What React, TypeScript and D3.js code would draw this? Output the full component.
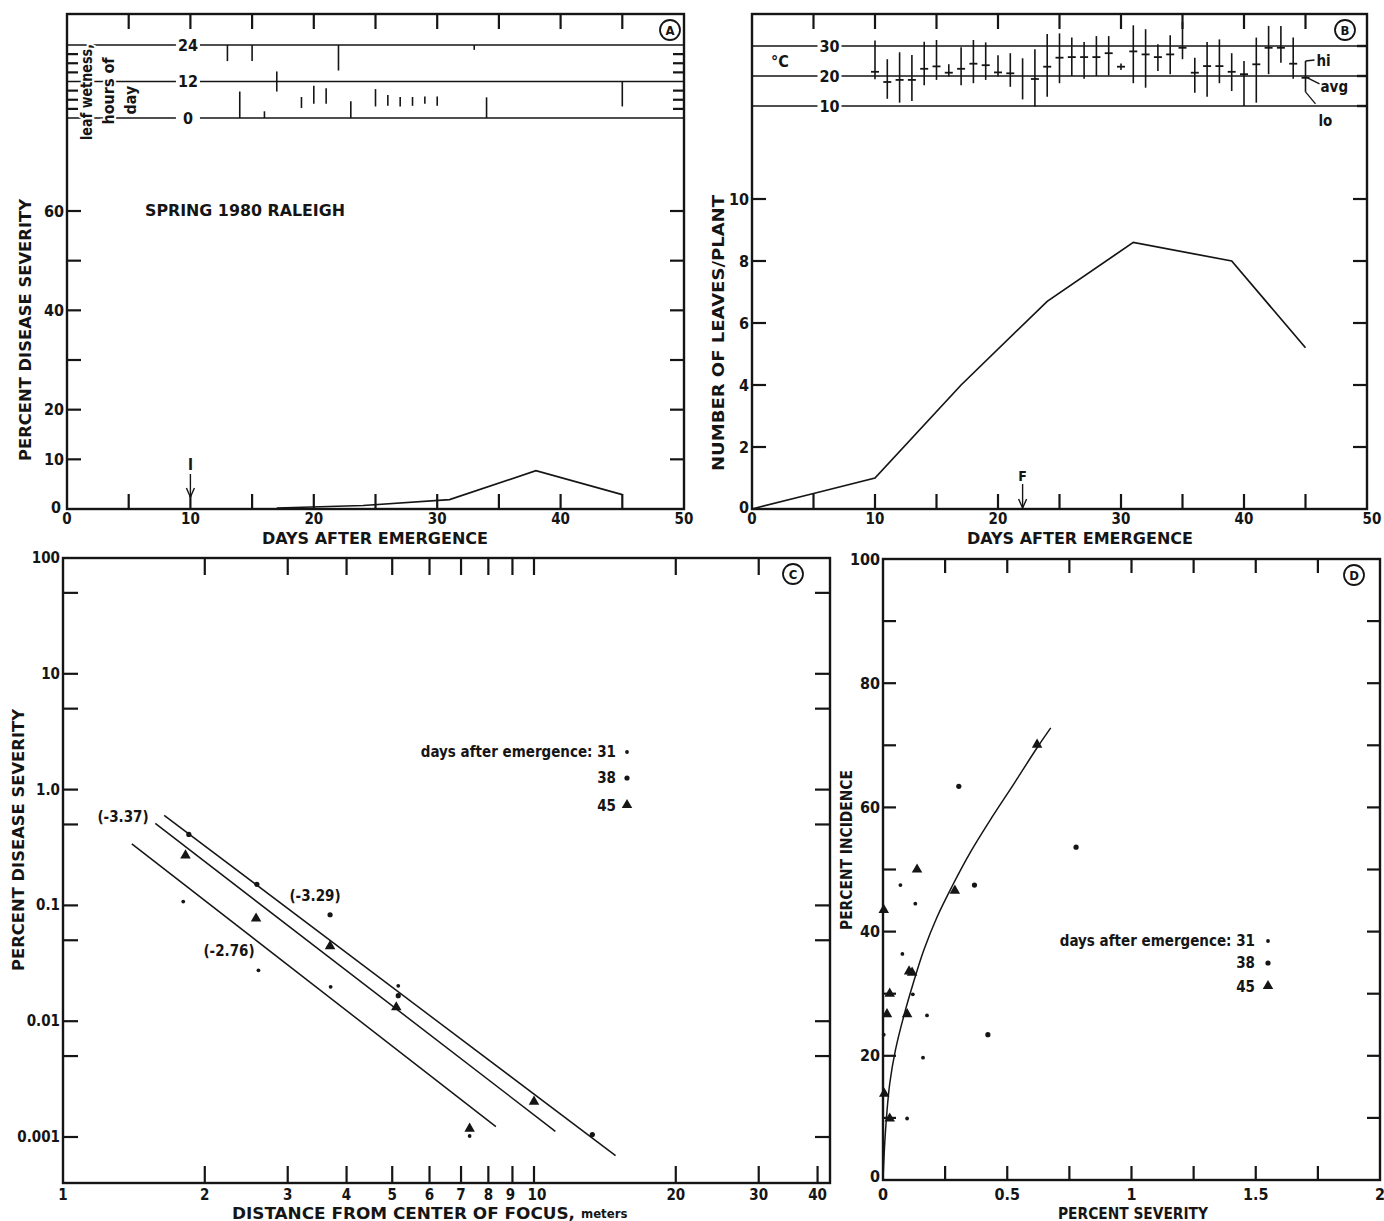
import React from 'react';
import * as d3 from 'd3';

const FONT = '"DejaVu Sans Condensed", "DejaVu Sans", sans-serif';
const INK = '#151515';

// --- Panel A: leaf wetness periods (hours of day) and disease severity ---
const wetDays = [13, 14, 15, 16, 17, 19, 20, 21, 22, 23, 25, 26, 27, 28, 29, 30, 33, 34, 45];
const wetFrom = [18.7, 0, 18.7, 0, 8.7, 3.3, 4.7, 4.7, 15.6, 0, 3.8, 4.0, 3.8, 4.0, 4.7, 4.0, 22.4, 0, 3.8];
const wetTo = [24, 8.7, 24, 2.2, 15.3, 6.9, 10.6, 9.8, 24, 5.5, 9.5, 7.6, 6.9, 6.9, 7.1, 7.1, 24, 6.8, 12];
const sevDays = [17, 24, 31, 38, 45];
const sevPct = [0.2, 0.7, 1.9, 7.7, 2.9];

// --- Panel B: daily temperature and leaves per plant ---
const tempDays = d3.range(10, 46);
const tempHi = [31.8, 25.6, 27.9, 27.0, 31.4, 32.0, 23.9, 29.6, 32.0, 31.2, 26.9, 27.6, 25.9, 28.9, 34.0, 34.2, 32.8, 31.3, 33.3, 33.3, 24.2, 36.9, 35.6, 30.6, 33.6, 38.0, 26.1, 31.3, 32.2, 27.6, 25.0, 32.8, 36.7, 36.7, 32.8, 25.0];
const tempAvg = [21.4, 18.0, 18.7, 18.7, 22.4, 23.2, 21.1, 22.4, 24.1, 23.6, 21.2, 20.9, null, 19.0, 23.1, 26.1, 26.3, 26.3, 26.3, 27.6, 23.1, 28.2, 27.2, 26.3, 27.2, 29.4, 21.1, 23.3, 23.3, 21.4, 20.6, 23.9, 29.4, 29.4, 24.1, 19.4];
const tempLo = [18.9, 12.4, 11.1, 11.7, 16.9, 18.7, 19.8, 16.9, 17.6, 18.7, 19.8, 16.4, 12.2, 9.8, 13.1, 17.6, 20.0, 19.1, 20.0, 20.2, 22.0, 17.6, 16.1, 21.7, 20.6, 25.6, 14.4, 13.1, 17.6, 15.0, 10.0, 11.1, 20.6, 24.4, 19.1, 14.7];
const leafDays = [0, 5, 10, 17, 24, 31, 39, 45];
const leafCount = [0, 0.5, 1.0, 4.0, 6.7, 8.6, 8.0, 5.2];

// --- Panel C: severity gradient vs distance (log-log) ---
const c31Dist = [1.8, 2.6, 3.7, 5.15, 7.3];
const c31Sev = [0.108, 0.0275, 0.0198, 0.0202, 0.00102];
const c38Dist = [1.85, 2.58, 3.69, 5.15, 13.3];
const c38Sev = [0.41, 0.152, 0.083, 0.0166, 0.00105];
const c45Dist = [1.82, 2.57, 3.69, 5.1, 7.3, 10];
const c45Sev = [0.27, 0.077, 0.0445, 0.0132, 0.00118, 0.00202];
const fitLabels = ['(-3.29)', '(-3.37)', '(-2.76)'];
const fitDist = [[1.64, 14.9], [1.57, 11.1], [1.4, 8.3]];
const fitSev = [[0.6, 0.00069], [0.51, 0.00112], [0.34, 0.00123]];

// --- Panel D: incidence vs severity ---
const d31Sev = [0.07, 0.13, 0.078, 0.12, 0.177, 0.161, 0.097, 0.003];
const d31Inc = [47.5, 44.5, 36.4, 29.9, 26.5, 19.7, 9.9, 23.4];
const d38Sev = [0.305, 0.777, 0.368, 0.422];
const d38Inc = [63.4, 53.6, 47.5, 23.4];
const d45Sev = [0.62, 0.137, 0.289, 0.003, 0.117, 0.105, 0.027, 0.016, 0.097, 0.005, 0.027];
const d45Inc = [70.1, 50.0, 46.6, 43.5, 33.4, 33.6, 30.0, 26.7, 26.7, 13.9, 9.9];
const curveSev = [0, 0.0094, 0.027, 0.05, 0.083, 0.121, 0.164, 0.218, 0.278, 0.352, 0.44, 0.53, 0.62, 0.675];
const curveInc = [0, 7.5, 15.5, 20.9, 26.3, 31.6, 37.0, 42.4, 47.3, 52.8, 58.5, 64.0, 69.6, 72.8];

const tri = d3.symbol().type(d3.symbolTriangle).size(48)() as string;

const Txt = ({ x, y, size = 15, anchor = 'middle', weight = 'bold', rotate = 0, len, halo, children }: any) => (
    <text
        x={x} y={y}
        fontSize={size}
        fontWeight={weight}
        textAnchor={anchor}
        dominantBaseline="central"
        fill={INK}
        stroke={halo ? '#fff' : undefined}
        strokeWidth={halo ? 4 : undefined}
        paintOrder={halo ? 'stroke' : undefined}
        textLength={len}
        lengthAdjust={len ? 'spacingAndGlyphs' : undefined}
        transform={rotate ? `rotate(${rotate},${x},${y})` : undefined}
    >{children}</text>
);

const Circled = ({ x, y, letter }: any) => (
    <g>
        <circle cx={x} cy={y} r={10} fill="none" stroke={INK} strokeWidth={1.8} />
        <Txt x={x} y={y + 0.5} size={13}>{letter}</Txt>
    </g>
);

const Frame = ({ x0, x1, y0, y1 }: any) => (
    <rect x={x0} y={y0} width={x1 - x0} height={y1 - y0} fill="none" stroke={INK} strokeWidth={2.4} />
);

const Arrow = ({ x, y0, y1 }: any) => (
    <g stroke={INK} strokeWidth={1.4} fill="none">
        <line x1={x} x2={x} y1={y0} y2={y1} />
        <polyline points={`${x - 4},${y1 - 9} ${x},${y1} ${x + 4},${y1 - 9}`} />
    </g>
);

const Dot = ({ x, y, r }: any) => <circle cx={x} cy={y} r={r} fill={INK} />;
const Tri = ({ x, y }: any) => <path d={tri} transform={`translate(${x},${y})`} fill={INK} />;

// --- Panel A ---
const PanelA = () => {
    const L = 67, R = 684, T = 14, B = 509;
    const x = d3.scaleLinear().domain([0, 50]).range([L, R]);
    const y = d3.scaleLinear().domain([0, 60]).range([B, 211]);
    const w = d3.scaleLinear().domain([0, 24]).range([118, 45]);
    const line = d3.line<number>().x((_, i) => x(sevDays[i])).y(d => y(d));
    const dayTicks = d3.range(5, 50, 5);
    return (
        <g>
            <Frame x0={L} x1={R} y0={T} y1={B} />
            {dayTicks.map(d => (
                <g key={d} stroke={INK} strokeWidth={2.2}>
                    <line x1={x(d)} x2={x(d)} y1={B} y2={B - 15} />
                    <line x1={x(d)} x2={x(d)} y1={T} y2={T + 15} />
                </g>
            ))}
            {d3.range(10, 70, 10).map(v => (
                <g key={v} stroke={INK} strokeWidth={2.2}>
                    <line x1={L} x2={L + 14} y1={y(v)} y2={y(v)} />
                    <line x1={R} x2={R - 14} y1={y(v)} y2={y(v)} />
                </g>
            ))}
            {[3, 6, 9, 15, 18, 21].map(h => (
                <g key={h} stroke={INK} strokeWidth={2.2}>
                    <line x1={L} x2={L + 11} y1={w(h)} y2={w(h)} />
                    <line x1={R} x2={R - 11} y1={w(h)} y2={w(h)} />
                </g>
            ))}
            {[0, 12, 24].map(h => (
                <g key={h}>
                    <line x1={L} x2={R} y1={w(h)} y2={w(h)} stroke={INK} strokeWidth={1.6} />
                    <rect x={x(9.8) - 12} y={w(h) - 8} width={24} height={16} fill="#fff" />
                    <Txt x={x(9.8)} y={w(h)} size={16}>{h}</Txt>
                </g>
            ))}
            {wetDays.map((d, i) => (
                <line key={d} x1={x(d)} x2={x(d)} y1={w(wetFrom[i])} y2={w(wetTo[i])} stroke={INK} strokeWidth={1.6} />
            ))}
            <Txt x={86} y={92} size={16} rotate={-90} halo len={96}>leaf wetness,</Txt>
            <Txt x={108} y={91} size={16} rotate={-90} halo>hours of</Txt>
            <Txt x={130} y={100} size={16} rotate={-90} halo>day</Txt>
            <Circled x={670} y={30} letter="A" />
            <path d={line(sevPct) as string} fill="none" stroke={INK} strokeWidth={1.7} />
            {[10, 20, 40, 60].map(v => (
                <Txt key={v} x={L - 3} y={y(v)} size={16} anchor="end">{v}</Txt>
            ))}
            <Txt x={L - 6} y={B - 2} size={16} anchor="end">0</Txt>
            {d3.range(0, 60, 10).map(d => (
                <Txt key={d} x={x(d)} y={B + 10} size={15}>{d}</Txt>
            ))}
            <Txt x={375} y={538} size={16} len={226}>DAYS AFTER EMERGENCE</Txt>
            <Txt x={25} y={330} size={16} rotate={-90} len={262}>PERCENT DISEASE SEVERITY</Txt>
            <Txt x={245} y={211} size={15} len={200}>SPRING 1980 RALEIGH</Txt>
            <Txt x={x(10)} y={465} size={15}>I</Txt>
            <Arrow x={x(10)} y0={474} y1={497} />
        </g>
    );
};

// --- Panel B ---
const PanelB = () => {
    const L = 752, R = 1367, T = 14, B = 509;
    const x = d3.scaleLinear().domain([0, 50]).range([L, R]);
    const y = d3.scaleLinear().domain([0, 10]).range([B, 199]);
    const t = d3.scaleLinear().domain([10, 30]).range([106, 46]);
    const line = d3.line<number>().x((_, i) => x(leafDays[i])).y(d => y(d));
    const last = tempDays.length - 1;
    const lx = x(tempDays[last]);
    return (
        <g>
            <Frame x0={L} x1={R} y0={T} y1={B} />
            {d3.range(5, 50, 5).map(d => (
                <g key={d} stroke={INK} strokeWidth={2.2}>
                    <line x1={x(d)} x2={x(d)} y1={B} y2={B - 15} />
                    <line x1={x(d)} x2={x(d)} y1={T} y2={T + 15} />
                </g>
            ))}
            {d3.range(2, 12, 2).map(v => (
                <g key={v} stroke={INK} strokeWidth={2.2}>
                    <line x1={L} x2={L + 14} y1={y(v)} y2={y(v)} />
                    <line x1={R} x2={R - 14} y1={y(v)} y2={y(v)} />
                </g>
            ))}
            {[30, 20, 10].map(v => (
                <g key={v}>
                    <line x1={L} x2={R} y1={t(v)} y2={t(v)} stroke={INK} strokeWidth={1.6} />
                    <rect x={x(6.3) - 12} y={t(v) - 8} width={24} height={16} fill="#fff" />
                    <Txt x={x(6.3)} y={t(v)} size={16}>{v}</Txt>
                    <line x1={R} x2={R - 10} y1={t(v)} y2={t(v)} stroke={INK} strokeWidth={2.4} />
                </g>
            ))}
            <Txt x={780} y={61} size={16}>°C</Txt>
            {tempDays.map((d, i) => (
                <g key={d} stroke={INK} strokeWidth={1.6}>
                    <line x1={x(d)} x2={x(d)} y1={t(tempLo[i])} y2={t(tempHi[i])} />
                    {tempAvg[i] != null && (
                        <line x1={x(d) - 4} x2={x(d) + 4} y1={t(tempAvg[i] as number)} y2={t(tempAvg[i] as number)} strokeWidth={1.8} />
                    )}
                </g>
            ))}
            <g stroke={INK} strokeWidth={1.3} fill="none">
                <line x1={lx} x2={lx + 9} y1={t(tempHi[last])} y2={t(tempHi[last]) - 1} />
                <line x1={lx + 2} x2={lx + 14} y1={t(tempAvg[last] as number)} y2={t(tempAvg[last] as number) + 6} />
                <line x1={lx} x2={lx + 10} y1={t(tempLo[last])} y2={t(tempLo[last]) + 12} />
            </g>
            <Txt x={lx + 11} y={61} size={15} anchor="start">hi</Txt>
            <Txt x={lx + 15} y={87} size={15} anchor="start">avg</Txt>
            <Txt x={lx + 13} y={121} size={15} anchor="start">lo</Txt>
            <Circled x={1345} y={30} letter="B" />
            <path d={line(leafCount) as string} fill="none" stroke={INK} strokeWidth={1.7} />
            {d3.range(0, 12, 2).map(v => (
                <Txt key={v} x={L - 3} y={y(v) - (v === 0 ? 2 : 0)} size={16} anchor="end">{v}</Txt>
            ))}
            {d3.range(0, 60, 10).map(d => (
                <Txt key={d} x={x(d) + (d === 50 ? 5 : 0)} y={B + 10} size={15}>{d}</Txt>
            ))}
            <Txt x={1080} y={538} size={16} len={226}>DAYS AFTER EMERGENCE</Txt>
            <Txt x={718} y={333} size={16} rotate={-90} len={276}>NUMBER OF LEAVES/PLANT</Txt>
            <Txt x={x(22)} y={476} size={14}>F</Txt>
            <Arrow x={x(22)} y0={484} y1={508} />
        </g>
    );
};

// --- Panel C ---
const PanelC = () => {
    const L = 63, R = 830, T = 558, B = 1183;
    const x = d3.scaleLog().domain([1, 10]).range([L, 534]);
    const y = d3.scaleLog().domain([0.001, 100]).range([1137, T]);
    const xt = [2, 3, 4, 5, 6, 7, 8, 9, 10, 20, 30];
    const yt = [50, 10, 5, 1, 0.5, 0.1, 0.05, 0.01, 0.005, 0.001];
    const yl = [[100, '100'], [10, '10'], [1, '1.0'], [0.1, '0.1'], [0.01, '0.01'], [0.001, '0.001']];
    return (
        <g>
            <Frame x0={L} x1={R} y0={T} y1={B} />
            {xt.concat([40]).map(d => (
                <line key={'b' + d} x1={x(d)} x2={x(d)} y1={B} y2={B - 17} stroke={INK} strokeWidth={2.2} />
            ))}
            {xt.map(d => (
                <line key={'t' + d} x1={x(d)} x2={x(d)} y1={T} y2={T + 17} stroke={INK} strokeWidth={2.2} />
            ))}
            {yt.map(v => (
                <g key={v} stroke={INK} strokeWidth={2.2}>
                    <line x1={L} x2={L + 15} y1={y(v)} y2={y(v)} />
                    <line x1={R} x2={R - 15} y1={y(v)} y2={y(v)} />
                </g>
            ))}
            {yl.map(([v, s]) => (
                <Txt key={s as string} x={L - 3} y={y(v as number)} size={15} anchor="end">{s}</Txt>
            ))}
            {[1, 2, 3, 4, 5, 6, 7, 8, 9, 10, 20, 30, 40].map(d => (
                <Txt key={d} x={x(d) + (d === 9 ? -2 : d === 10 ? 3 : 0)} y={1195} size={15}>{d}</Txt>
            ))}
            {fitDist.map((fd, i) => (
                <line key={i} x1={x(fd[0])} x2={x(fd[1])} y1={y(fitSev[i][0])} y2={y(fitSev[i][1])} stroke={INK} strokeWidth={1.5} />
            ))}
            <Txt x={315} y={896} size={15}>{fitLabels[0]}</Txt>
            <Txt x={123} y={817} size={15}>{fitLabels[1]}</Txt>
            <Txt x={229} y={951} size={15}>{fitLabels[2]}</Txt>
            {c31Dist.map((d, i) => <Dot key={'a' + i} x={x(d)} y={y(c31Sev[i])} r={1.9} />)}
            {c38Dist.map((d, i) => <Dot key={'b' + i} x={x(d)} y={y(c38Sev[i])} r={2.6} />)}
            {c45Dist.map((d, i) => <Tri key={'c' + i} x={x(d)} y={y(c45Sev[i])} />)}
            <Txt x={616} y={752} size={15} anchor="end">days after emergence: 31</Txt>
            <Txt x={616} y={778} size={15} anchor="end">38</Txt>
            <Txt x={616} y={806} size={15} anchor="end">45</Txt>
            <Dot x={627} y={752} r={1.9} />
            <Dot x={627} y={778} r={2.6} />
            <Tri x={627} y={805} />
            <Circled x={793} y={574} letter="C" />
            <Txt x={18} y={840} size={16} rotate={-90} len={262}>PERCENT DISEASE SEVERITY</Txt>
            <text x={232} y={1213} fontSize={16} fontWeight="bold" fill={INK} dominantBaseline="central">
                <tspan textLength={343} lengthAdjust="spacingAndGlyphs">DISTANCE FROM CENTER OF FOCUS,</tspan>
                <tspan dx={6} fontSize={13}>meters</tspan>
            </text>
        </g>
    );
};

// --- Panel D ---
const PanelD = () => {
    const L = 883, R = 1380, T = 559, B = 1180;
    const x = d3.scaleLinear().domain([0, 2]).range([L, R]);
    const y = d3.scaleLinear().domain([0, 100]).range([B, T]);
    const curve = d3.line<number>().x((_, i) => x(curveSev[i])).y(d => y(d)).curve(d3.curveCatmullRom);
    return (
        <g>
            <Frame x0={L} x1={R} y0={T} y1={B} />
            {d3.range(0.25, 2, 0.25).map(d => (
                <g key={d} stroke={INK} strokeWidth={2.2}>
                    <line x1={x(d)} x2={x(d)} y1={B} y2={B - 14} />
                    <line x1={x(d)} x2={x(d)} y1={T} y2={T + 14} />
                </g>
            ))}
            {d3.range(10, 100, 10).map(v => (
                <g key={v} stroke={INK} strokeWidth={2.2}>
                    <line x1={L} x2={L + 13} y1={y(v)} y2={y(v)} />
                    <line x1={R} x2={R - 13} y1={y(v)} y2={y(v)} />
                </g>
            ))}
            {d3.range(0, 120, 20).map(v => (
                <Txt key={v} x={L - 3} y={y(v) - (v === 0 ? 4 : 0)} size={16} anchor="end">{v}</Txt>
            ))}
            {[0, 0.5, 1, 1.5, 2].map(d => (
                <Txt key={d} x={x(d)} y={1194} size={16}>{d}</Txt>
            ))}
            <path d={curve(curveInc) as string} fill="none" stroke={INK} strokeWidth={1.5} />
            {d31Sev.map((d, i) => <Dot key={'a' + i} x={x(d)} y={y(d31Inc[i])} r={1.9} />)}
            {d38Sev.map((d, i) => <Dot key={'b' + i} x={x(d)} y={y(d38Inc[i])} r={2.6} />)}
            {d45Sev.map((d, i) => <Tri key={'c' + i} x={x(d)} y={y(d45Inc[i])} />)}
            <Txt x={1255} y={941} size={15} anchor="end">days after emergence: 31</Txt>
            <Txt x={1255} y={963} size={15} anchor="end">38</Txt>
            <Txt x={1255} y={987} size={15} anchor="end">45</Txt>
            <Dot x={1268} y={941} r={1.9} />
            <Dot x={1268} y={963} r={2.6} />
            <Tri x={1268} y={986} />
            <Circled x={1354} y={575} letter="D" />
            <Txt x={846} y={850} size={16} rotate={-90} len={160}>PERCENT INCIDENCE</Txt>
            <Txt x={1133} y={1213} size={16} len={150}>PERCENT SEVERITY</Txt>
        </g>
    );
};

export default function App() {
    return (
        <svg
            width={1384}
            height={1221}
            style={{ position: 'absolute', left: 0, top: 0, background: '#fff', fontFamily: FONT }}
        >
            <rect width={1384} height={1221} fill="#fff" />
            <PanelA />
            <PanelB />
            <PanelC />
            <PanelD />
        </svg>
    );
}
